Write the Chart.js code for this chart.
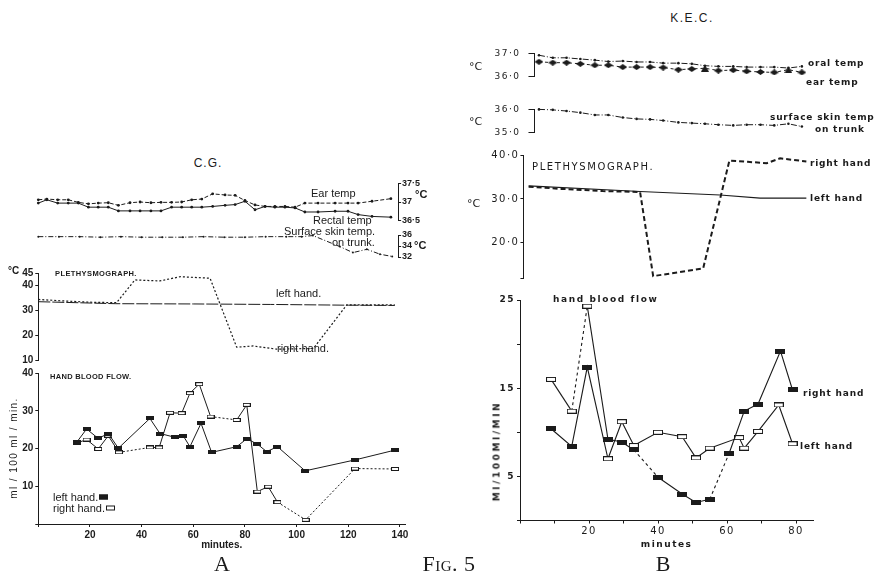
<!DOCTYPE html>
<html>
<head>
<meta charset="utf-8">
<script src="https://cdn.jsdelivr.net/npm/chart.js@4.4.1/dist/chart.umd.min.js"></script>
<style>
body { margin: 0; background: #fff; }
#page { position: relative; width: 876px; height: 582px; overflow: hidden; color: #1b1b1b; font-family: "Liberation Sans", sans-serif; -webkit-font-smoothing: antialiased; }
canvas { position: absolute; }
.t { position: absolute; white-space: nowrap; line-height: 1; transform: translateY(-50%); color: #1b1b1b; }
</style>
</head>
<body>
<div id="page"></div>
<script>
// ---------- data: panel A (C.G.) ----------
const aTempTimes = [0, 3.3, 7.5, 11.6, 15.5, 19.4, 23.2, 27.1, 31, 35.5, 39.4, 43.6, 47.5, 51.6, 55.5, 59.4, 63.3, 67.5, 72.3, 76.2, 80, 83.9, 87.8, 91.6, 95.5, 99.4, 103.2, 108.3, 114.9, 119.9, 123.8, 129.2, 136.5];
const aEarTemp = [37.06, 37.08, 37.06, 37.06, 36.99, 36.95, 36.97, 36.98, 36.91, 36.98, 37.0, 36.98, 36.99, 36.99, 37.0, 37.06, 37.08, 37.22, 37.19, 37.18, 37.04, 36.92, 36.88, 36.88, 36.88, 36.86, 36.97, 36.97, 36.97, 36.97, 36.97, 37.02, 37.09];
const aRectalTemp = [36.97, 37.06, 36.97, 36.97, 36.97, 36.86, 36.86, 36.86, 36.76, 36.76, 36.76, 36.76, 36.76, 36.86, 36.86, 36.86, 36.86, 36.88, 36.91, 36.93, 37.02, 36.79, 36.88, 36.86, 36.86, 36.84, 36.73, 36.73, 36.75, 36.75, 36.66, 36.61, 36.59];

const aSkinTimes = [0, 8, 16, 24, 32, 40, 48, 56, 64, 72, 80, 88, 96, 102, 106.3, 116.7, 121.8, 127.2, 132.3, 137];
const aSkinTemp = [35.7, 35.7, 35.7, 35.6, 35.7, 35.6, 35.6, 35.6, 35.7, 35.6, 35.6, 35.7, 35.7, 35.7, 35.9, 33.9, 32.8, 33.4, 32.5, 32.1];

const aPlethLeftTimes = [0, 30, 60, 90, 120, 138];
const aPlethLeft = [33.6, 32.8, 32.7, 32.5, 32.2, 32.1];
const aPlethRightTimes = [0, 10, 20, 30.3, 37.4, 47, 55, 66.5, 76.8, 83.2, 92.3, 106.5, 119.4, 138];
const aPlethRight = [34.5, 33.9, 33.4, 33.2, 42.3, 41.9, 43.6, 43.0, 15.4, 15.9, 14.6, 14.9, 32.3, 32.3];

const aFlowLeftTimes = [15, 18.7, 23.2, 27.1, 31, 43.2, 47.1, 52.9, 56.1, 58.7, 63, 67.1, 76.8, 80.7, 84.8, 88.4, 92.6, 103.3, 122.6, 138.1];
const aFlowLeft = [21.8, 25.2, 22.7, 24.0, 20.1, 28.0, 24.0, 23.0, 23.4, 20.5, 26.7, 19.0, 20.5, 22.6, 21.2, 19.2, 20.5, 14.1, 17.0, 19.6];
const aFlowRightTimes = [15, 18.7, 23.2, 27.1, 31.2, 43.2, 46.8, 51, 55.5, 58.7, 62.3, 66.7, 76.8, 80.7, 84.8, 89, 92.6, 103.5, 122.6, 138.1];
const aFlowRight = [21.5, 22.4, 19.9, 23.4, 19.0, 20.3, 20.3, 29.5, 29.4, 34.7, 37.1, 28.5, 27.6, 31.6, 8.6, 9.9, 5.8, 1.1, 14.7, 14.6];

const aFlowTicks = [20, 40, 60, 80, 100, 120, 140];

// ---------- data: panel B (K.E.C.) ----------
const bTempTimes = [5.5, 9.5, 13.5, 17.5, 21.7, 25.6, 29.8, 33.8, 37.7, 41.5, 45.9, 49.8, 53.6, 57.5, 61.8, 65.7, 69.7, 73.7, 77.8, 81.7];
const bOralTemp = [36.92, 36.81, 36.81, 36.76, 36.71, 36.65, 36.67, 36.63, 36.63, 36.58, 36.58, 36.55, 36.47, 36.44, 36.44, 36.41, 36.41, 36.41, 36.37, 36.44];
const bEarTemp = [36.64, 36.6, 36.6, 36.55, 36.49, 36.49, 36.41, 36.41, 36.41, 36.39, 36.3, 36.33, 36.36, 36.26, 36.28, 36.23, 36.2, 36.18, 36.3, 36.18];
const bSkinTemp = [36.0, 35.98, 35.93, 35.86, 35.76, 35.76, 35.65, 35.59, 35.57, 35.52, 35.44, 35.41, 35.38, 35.34, 35.31, 35.34, 35.34, 35.31, 35.38, 35.26];

const bPlethLeftTimes = [2.5, 34.8, 58, 69.6, 83];
const bPlethLeft = [33.0, 31.7, 30.9, 30.2, 30.2];
const bPlethRightTimes = [2.5, 12, 24, 34.8, 38.6, 46, 53.1, 60.7, 66, 71.5, 75.4, 83];
const bPlethRight = [32.8, 32.3, 31.8, 31.6, 12.3, 13.2, 14.1, 38.8, 38.5, 38.2, 39.3, 38.6];

const bFlowRightTimes = [9, 15, 19.5, 25.5, 29.5, 33, 40, 47, 51, 55, 60.6, 65, 69, 75.5, 79];
const bFlowRight = [16.0, 12.4, 24.3, 9.2, 8.9, 8.0, 4.9, 3.0, 2.05, 2.4, 7.6, 12.4, 13.2, 19.2, 14.8];
const bFlowLeftTimes = [9, 15, 19.5, 25.5, 29.5, 33, 40, 47, 51, 55, 63.5, 65, 69, 75, 79];
const bFlowLeft = [10.4, 8.4, 17.4, 7.0, 11.2, 8.5, 10.0, 9.5, 7.1, 8.2, 9.4, 8.2, 10.1, 13.1, 8.7];

const bFlowTicks = [20, 40, 60, 80];

// ---------- style constants ----------
const INK = '#1b1b1b';
const A_X0 = 38.3, A_PX = 2.583;   // panel A: page x of minute 0, px per minute
const B_X0 = 520, B_PX = 3.45;     // panel B
const B_SWAP_INDEX = 3;            // marker fill swaps between hands from this point on
const B_RIGHT_DASHED = [1, 5, 9];  // segments drawn dashed (start index)
const B_EAR_TRIANGLES = [12, 18];

const page = document.getElementById('page');

function pts(xs, ys) { return xs.map((x, i) => ({ x: x, y: ys[i] })); }
function dot(s) { return String(s).replace('.', '\u00b7'); }

function addCanvas(box) {
  const c = document.createElement('canvas');
  c.width = box.w; c.height = box.h;
  c.style.left = box.x + 'px'; c.style.top = box.y + 'px';
  page.appendChild(c);
  return c;
}

function mark(w, h, kind) {
  const c = document.createElement('canvas');
  c.width = w; c.height = h;
  const g = c.getContext('2d');
  g.fillStyle = INK; g.strokeStyle = INK; g.lineWidth = 1;
  if (kind === 'fill') g.fillRect(0, 0, w, h);
  else if (kind === 'open') { g.fillStyle = '#fff'; g.fillRect(0, 0, w, h); g.strokeRect(0.5, 0.5, w - 1, h - 1); }
  else if (kind === 'diamond') { g.beginPath(); g.moveTo(0, h / 2); g.lineTo(w / 2, 0); g.lineTo(w, h / 2); g.lineTo(w / 2, h); g.closePath(); g.fill(); }
  else if (kind === 'tri') { g.beginPath(); g.moveTo(w / 2, 0); g.lineTo(w, h); g.lineTo(0, h); g.closePath(); g.fill(); }
  return c;
}
const aFill = mark(8, 4, 'fill'), aOpen = mark(8, 4, 'open');
const bFill = mark(10, 5, 'fill'), bOpen = mark(10, 5, 'open');
const bDiamond = mark(9, 6, 'diamond'), bTri = mark(8, 7, 'tri');

const fontA = { family: 'Liberation Sans', size: 10, weight: 'bold' };
const fontB = { family: 'DejaVu Sans', size: 9 };

function yAxis(o) {
  return {
    type: 'linear', position: o.pos || 'left', min: o.min, max: o.max,
    afterFit: s => { s.width = o.width; },
    border: { display: true, color: INK, width: 1 },
    grid: { drawOnChartArea: false, drawTicks: true, tickLength: o.tick == null ? 3 : o.tick, color: INK, lineWidth: 1 },
    ticks: { stepSize: o.step, includeBounds: true, padding: o.pad == null ? 2 : o.pad, color: INK, font: o.font, callback: o.fmt, autoSkip: false, maxRotation: 0 }
  };
}
function xAxis(o) {
  if (!o.height) return { type: 'linear', min: o.min, max: o.max, display: false };
  return {
    type: 'linear', min: o.min, max: o.max,
    afterFit: s => { s.height = o.height; },
    border: { display: true, color: INK, width: 1 },
    grid: { drawOnChartArea: false, drawTicks: true, tickLength: 3, color: INK, lineWidth: 1 },
    ticks: { stepSize: o.step, includeBounds: false, padding: 2, color: INK, font: o.font, callback: o.fmt, autoSkip: false, maxRotation: 0 },
    title: o.title
  };
}

function build(box, plot, xs, ys, datasets, plugins) {
  const canvas = addCanvas(box);
  const yW = ys.width || 0, xH = xs.height || 0;
  const onRight = ys.pos === 'right';
  const padding = {
    left: plot.l - box.x - (onRight ? 0 : yW),
    right: box.x + box.w - plot.r - (onRight ? yW : 0),
    top: plot.t - box.y,
    bottom: box.y + box.h - plot.b - xH
  };
  return new Chart(canvas, {
    type: 'line',
    data: { datasets: datasets },
    options: {
      responsive: false, animation: false, devicePixelRatio: 1, events: [],
      layout: { padding: padding, autoPadding: false },
      plugins: { legend: { display: false }, tooltip: { enabled: false } },
      scales: { x: xAxis(xs), y: yAxis(ys) }
    },
    plugins: plugins || []
  });
}

function line(data, extra) {
  return Object.assign({
    data: data, borderColor: INK, borderWidth: 1, tension: 0, fill: false, clip: false,
    pointRadius: 0, pointBackgroundColor: INK, pointBorderWidth: 0
  }, extra);
}

const spaced = { id: 'spaced', beforeDraw(c) { c.ctx.letterSpacing = '1.5px'; } };

// ---------- panel A ----------
const aL = A_X0, aR1 = A_X0 + 139.3 * A_PX, aR2 = A_X0 + 142 * A_PX;

build({ x: 30, y: 175, w: 415, h: 55 }, { l: aL, r: aR1, t: 183.5, b: 220.5 },
  { min: 0, max: 139.3 },
  { pos: 'right', min: 36.5, max: 37.5, step: 0.5, width: 40, tick: 3, pad: 1, font: { family: 'Liberation Sans', size: 9, weight: 'bold' }, fmt: v => dot(v) },
  [
    line(pts(aTempTimes, aEarTemp), { borderDash: [4, 2], pointRadius: 1.4 }),
    line(pts(aTempTimes, aRectalTemp), { pointRadius: 1.4 })
  ]);

build({ x: 30, y: 228, w: 415, h: 36 }, { l: aL, r: aR1, t: 235, b: 257 },
  { min: 0, max: 139.3 },
  { pos: 'right', min: 32, max: 36, step: 2, width: 40, tick: 3, pad: 1, font: { family: 'Liberation Sans', size: 9, weight: 'bold' }, fmt: v => v },
  [line(pts(aSkinTimes, aSkinTemp), { borderDash: [5, 2, 1, 2], pointRadius: 1 })]);

build({ x: 0, y: 262, w: 420, h: 108 }, { l: aL, r: aR2, t: 273.2, b: 360.7 },
  { min: 0, max: 142 },
  { min: 10, max: 45, step: 10, width: aL, tick: 3, pad: 2, font: fontA, fmt: v => v },
  [
    line(pts(aPlethLeftTimes, aPlethLeft), { borderDash: [12, 2] }),
    line(pts(aPlethRightTimes, aPlethRight), { borderDash: [2, 2], borderWidth: 1.2 })
  ]);

build({ x: 0, y: 365, w: 420, h: 190 }, { l: aL, r: aR2, t: 373.2, b: 524 },
  { min: 0, max: 142, step: 20, height: 30, font: fontA, fmt: v => aFlowTicks.includes(v) ? v : '',
    title: { display: true, text: 'minutes.', color: INK, font: { family: 'Liberation Sans', size: 10, weight: 'bold' }, padding: { top: 0, bottom: 3 } } },
  { min: 0, max: 40, step: 10, width: aL, tick: 3, pad: 2, font: fontA, fmt: v => v === 0 ? '' : v },
  [
    line(pts(aFlowLeftTimes, aFlowLeft), { pointStyle: aFill, pointRadius: 3 }),
    line(pts(aFlowRightTimes, aFlowRight), { pointStyle: aOpen, pointRadius: 3,
      segment: { borderDash: c => (c.p1.parsed.x - c.p0.parsed.x > 8 ? [2, 2] : undefined) } })
  ]);

// ---------- panel B ----------
const bR = B_X0 + 85 * B_PX;

build({ x: 470, y: 40, w: 400, h: 50 }, { l: B_X0 + 4.2 * B_PX, r: bR, t: 50.7, b: 82.3 },
  { min: 4.2, max: 85 },
  { min: 36, max: 37, step: 1, width: 44, tick: 6, pad: 8, font: fontB, fmt: v => dot(v.toFixed(1)) },
  [
    line(pts(bTempTimes, bOralTemp), { borderDash: [6, 2, 1, 2], pointRadius: 1.3 }),
    line(pts(bTempTimes, bEarTemp), { borderDash: [3, 3], pointRadius: 3,
      pointStyle: c => (B_EAR_TRIANGLES.includes(c.dataIndex) ? bTri : bDiamond) })
  ], [spaced]);

build({ x: 470, y: 96, w: 400, h: 50 }, { l: B_X0 + 4.2 * B_PX, r: bR, t: 106, b: 138.3 },
  { min: 4.2, max: 85 },
  { min: 35, max: 36, step: 1, width: 44, tick: 6, pad: 8, font: fontB, fmt: v => dot(v.toFixed(1)) },
  [line(pts(bTempTimes, bSkinTemp), { borderDash: [6, 2, 1, 2], pointRadius: 1.3 })], [spaced]);

build({ x: 470, y: 146, w: 400, h: 140 }, { l: B_X0 + 1 * B_PX, r: bR, t: 155.3, b: 278.3 },
  { min: 1, max: 85 },
  { min: 11.8, max: 40, step: 10, width: 53, tick: 3, pad: 1, font: { family: 'DejaVu Sans', size: 10 }, fmt: v => (v % 10 === 0 ? dot(v.toFixed(1)) : '') },
  [
    line(pts(bPlethLeftTimes, bPlethLeft), { borderWidth: 1.2 }),
    line(pts(bPlethRightTimes, bPlethRight), { borderDash: [5, 3], borderWidth: 2 })
  ], [spaced]);

build({ x: 470, y: 290, w: 400, h: 265 }, { l: B_X0, r: bR, t: 300, b: 520.5 },
  { min: 0, max: 85, step: 10, height: 34, font: { family: 'DejaVu Sans', size: 10 }, fmt: v => bFlowTicks.includes(v) ? v : '',
    title: { display: true, text: 'minutes', color: INK, font: { family: 'DejaVu Sans', size: 9, weight: 'bold' }, padding: { top: 0, bottom: 4.5 } } },
  { min: 0, max: 25, step: 5, width: 50, tick: 3, pad: 2, font: { family: 'DejaVu Sans', size: 9, weight: 'bold' }, fmt: v => (v % 10 === 5 ? v : '') },
  [
    line(pts(bFlowRightTimes, bFlowRight), { borderWidth: 1.1, pointRadius: 3,
      pointStyle: c => (c.dataIndex < B_SWAP_INDEX ? bOpen : bFill),
      segment: { borderDash: c => (B_RIGHT_DASHED.includes(c.p0DataIndex) ? [3, 3] : undefined) } }),
    line(pts(bFlowLeftTimes, bFlowLeft), { borderWidth: 1.1, pointRadius: 3,
      pointStyle: c => (c.dataIndex < B_SWAP_INDEX ? bFill : bOpen) })
  ], [spaced]);

// ---------- text ----------
function txt(s, x, y, css) {
  const d = document.createElement('div');
  d.className = 't';
  d.textContent = s;
  d.style.left = x + 'px';
  d.style.top = y + 'px';
  Object.assign(d.style, css || {});
  page.appendChild(d);
  return d;
}
const center = { transform: 'translate(-50%,-50%)' };
const aTxt = { fontSize: '11px' };
const bTxt = { fontFamily: 'DejaVu Sans', fontSize: '9px', fontWeight: 'bold', letterSpacing: '0.8px' };

txt('C.G.', 208, 163, Object.assign({ fontSize: '12px', letterSpacing: '1px' }, center));
txt('Ear  temp', 311, 193, aTxt);
txt('Rectal temp', 313, 220, aTxt);
txt('Surface  skin temp.', 284, 231, aTxt);
txt('on trunk.', 332, 242, aTxt);
txt('\u00b0C', 415, 194, { fontSize: '11px', fontWeight: 'bold' });
txt('\u00b0C', 414, 245, { fontSize: '11px', fontWeight: 'bold' });
txt('\u00b0C', 8, 271, { fontSize: '10px', fontWeight: 'bold' });
txt('PLETHYSMOGRAPH.', 55, 274, { fontSize: '7.5px', fontWeight: 'bold', letterSpacing: '0.4px' });
txt('left  hand.', 276, 293, aTxt);
txt('right  hand.', 277, 348, aTxt);
txt('HAND  BLOOD  FLOW.', 50, 377, { fontSize: '7.5px', fontWeight: 'bold', letterSpacing: '0.3px' });
const lh = txt('left hand.', 53, 497, { fontSize: '11px' });
const rh = txt('right hand.', 53, 508, { fontSize: '11px' });
[[lh, INK], [rh, '#fff']].forEach(([el, c]) => {
  const s = document.createElement('span');
  s.style.cssText = 'display:inline-block;width:7px;height:3px;margin-left:1px;border:1px solid ' + INK + ';background:' + c + ';vertical-align:1px';
  el.appendChild(s);
});
txt('ml / 100 ml / min.', 14, 448, { fontSize: '10px', letterSpacing: '1.4px', transform: 'translate(-50%,-50%) rotate(-90deg)' });

txt('K.E.C.', 692, 18, Object.assign({ fontSize: '12px', letterSpacing: '1.5px' }, center));
txt('\u00b0C', 469, 66, { fontFamily: 'DejaVu Sans', fontSize: '11px' });
txt('\u00b0C', 469, 121, { fontFamily: 'DejaVu Sans', fontSize: '11px' });
txt('\u00b0C', 467, 203, { fontFamily: 'DejaVu Sans', fontSize: '11px' });
txt('oral temp', 808, 63, bTxt);
txt('ear temp', 806, 82, bTxt);
txt('surface skin temp', 770, 117, bTxt);
txt('on trunk', 815, 129, bTxt);
txt('PLETHYSMOGRAPH.', 532, 167, { fontFamily: 'DejaVu Sans', fontSize: '10px', letterSpacing: '1.6px' });
txt('right hand', 810, 163, bTxt);
txt('left hand', 810, 198, bTxt);
txt('hand blood flow', 553, 299, { fontFamily: 'DejaVu Sans', fontSize: '9px', fontWeight: 'bold', letterSpacing: '1.6px' });
txt('right hand', 803, 393, bTxt);
txt('left hand', 800, 446, bTxt);
txt('Ml/100Ml/MIN', 497, 451, { fontFamily: 'DejaVu Sans', fontSize: '9px', fontWeight: 'bold', letterSpacing: '2.6px', transform: 'translate(-50%,-50%) rotate(-90deg)' });

const serif = { fontFamily: 'Liberation Serif', fontSize: '22px', transform: 'translate(-50%,-50%)' };
txt('A', 222, 564, serif);
txt('Fig. 5', 449, 564, Object.assign({ fontVariant: 'small-caps', letterSpacing: '0.5px' }, serif));
txt('B', 663, 564, serif);
</script>
</body>
</html>
